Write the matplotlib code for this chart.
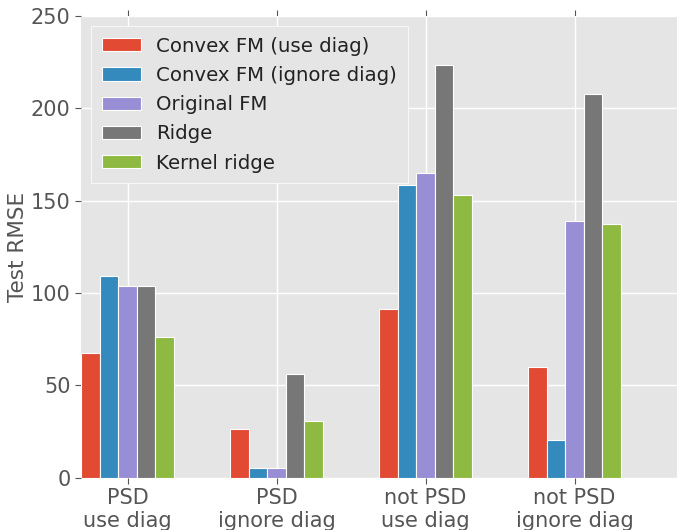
"""Test RMSE per setting, grouped bars in ggplot style."""
import numpy as np
import matplotlib
matplotlib.use("Agg")
import matplotlib.pyplot as plt

settings = ["PSD\nuse diag", "PSD\nignore diag", "not PSD\nuse diag", "not PSD\nignore diag"]
methods = ["Convex FM (use diag)", "Convex FM (ignore diag)", "Original FM", "Ridge", "Kernel ridge"]
colors = ["#E24A33", "#348ABD", "#988ED5", "#777777", "#8EBA42"]

convex_use = [67.6, 26.5, 91.5, 60.0]
convex_ignore = [109.2, 5.1, 158.7, 20.3]
original_fm = [103.8, 5.1, 165.2, 139.0]
ridge = [104.0, 56.1, 223.2, 207.8]
kernel_ridge = [75.9, 30.8, 153.3, 137.5]
results = [convex_use, convex_ignore, original_fm, ridge, kernel_ridge]

plt.style.use("ggplot")
plt.rcParams["font.family"] = ["DejaVu Sans"]

fig = plt.figure(figsize=(6.77, 5.3), dpi=100)
ax = fig.add_axes([0.1196, 0.0987, 0.8804, 0.8713])

width = 0.125
x = np.arange(len(settings))
for i, (name, vals) in enumerate(zip(methods, results)):
    ax.bar(x + i * width, vals, width, align="edge", color=colors[i],
           edgecolor="white", linewidth=0.8, label=name)

ax.set_xlim(0, 4)
ax.set_ylim(0, 250)
ax.set_xticks(x + 2.5 * width)
ax.set_xticklabels(settings)
ax.set_yticks([0, 50, 100, 150, 200, 250])
ax.set_ylabel("Test RMSE", fontsize=15.5, color="#555555")
ax.yaxis.set_label_coords(-0.089, 0.5)
ax.tick_params(axis="both", labelsize=15, colors="#555555", direction="out",
               length=4, width=0.8, top=True)
ax.grid(True, color="white", linewidth=1)
ax.set_axisbelow(True)
for s in ax.spines.values():
    s.set_visible(False)

leg = ax.legend(loc="upper left", fontsize=14.2, frameon=True, fancybox=False,
                borderpad=0.55, labelspacing=0.52, handlelength=2.0,
                handleheight=0.65, handletextpad=0.75,
                bbox_to_anchor=(0.0, 1.0))
leg.get_frame().set_facecolor("#E5E5E5")
leg.get_frame().set_edgecolor("white")
leg.get_frame().set_alpha(1)
for t in leg.get_texts():
    t.set_color("#222222")

fig.savefig("out.png", dpi=100)
